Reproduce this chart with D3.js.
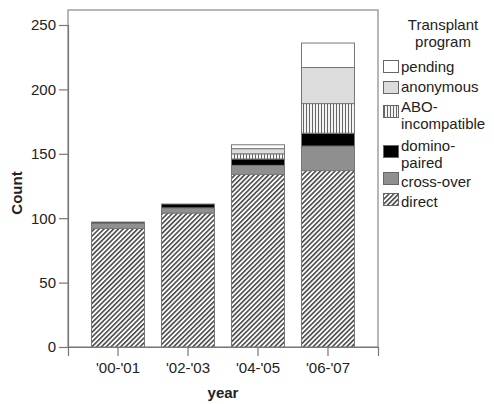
<!DOCTYPE html>
<html><head><meta charset="utf-8">
<script src="https://cdn.jsdelivr.net/npm/d3@7"></script>
<style>body{margin:0;background:#fff}svg{display:block}text{font-family:"Liberation Sans",Arial,sans-serif}</style>
</head><body><svg id="c" width="494" height="404"></svg>
<script>
const years = ["'00-'01","'02-'03","'04-'05","'06-'07"];
const programs = ["direct","cross-over","domino-paired","ABO-incompatible","anonymous","pending"];
const direct = [92,104,134,137];
const crossOver = [4,4,7,19];
const dominoPaired = [1,3,5,10];
const aboIncompatible = [0,0,4,23];
const anonymous = [0,0,4,28];
const pending = [0,0,3,19];
const yTicks = [0,50,100,150,200,250];
const legendLabels = [["pending"],["anonymous"],["ABO-","incompatible"],["domino-","paired"],["cross-over"],["direct"]];

const seriesVals = [direct,crossOver,dominoPaired,aboIncompatible,anonymous,pending];
const rows = years.map((y,i)=>{const r={year:y};programs.forEach((p,k)=>r[p]=seriesVals[k][i]);return r;});

const svg = d3.select("#c");
const defs = svg.append("defs");
const hatch = defs.append("pattern").attr("id","hatch").attr("patternUnits","userSpaceOnUse")
  .attr("width",3.4).attr("height",3.4).attr("patternTransform","rotate(45)");
hatch.append("rect").attr("width",3.4).attr("height",3.4).attr("fill","#fff");
hatch.append("rect").attr("width",1.6).attr("height",3.4).attr("fill","#4a4a4a");
const vert = defs.append("pattern").attr("id","vert").attr("patternUnits","userSpaceOnUse")
  .attr("width",3).attr("height",3);
vert.append("rect").attr("width",3).attr("height",3).attr("fill","#f4f4f4");
vert.append("rect").attr("width",1).attr("height",3).attr("fill","#666");

const fills = {"direct":"url(#hatch)","cross-over":"#8f8f8f","domino-paired":"#000","ABO-incompatible":"url(#vert)","anonymous":"#dcdcdc","pending":"#fff"};

const L=68,R=378,T=10,B=347;
const x = d3.scaleBand().domain(years).range([L,R]).paddingInner(0.243).paddingOuter(0.336);
const y = d3.scaleLinear().domain([0,250]).range([B,25]);

svg.append("rect").attr("x",L).attr("y",T).attr("width",R-L).attr("height",B-T)
  .attr("fill","none").attr("stroke","#888").attr("stroke-width",1.2);

const stack = d3.stack().keys(programs)(rows);
svg.append("g").selectAll("g").data(stack).join("g")
  .attr("fill",d=>fills[d.key])
  .selectAll("rect").data(d=>d.filter(v=>v[1]-v[0]>0)).join("rect")
  .attr("x",d=>x(d.data.year)).attr("width",x.bandwidth())
  .attr("y",d=>y(d[1])).attr("height",d=>y(d[0])-y(d[1]))
  .attr("stroke","#777").attr("stroke-width",1);

const ya = svg.append("g").attr("transform",`translate(${L},0)`)
  .call(d3.axisLeft(y).tickValues(yTicks).tickSize(9).tickPadding(3));
const xa = svg.append("g").attr("transform",`translate(0,${B})`)
  .call(d3.axisBottom(x).tickSize(9).tickPadding(6));
[ya,xa].forEach(a=>{a.select(".domain").attr("stroke","#777").attr("stroke-width",1.2);
  a.selectAll(".tick line").attr("stroke","#777").attr("stroke-width",1.2);
  a.selectAll("text").attr("font-size",15).attr("fill","#222").attr("font-family","Liberation Sans, Arial, sans-serif");});

svg.append("text").attr("transform","translate(22,193) rotate(-90)").attr("text-anchor","middle")
  .attr("font-size",15).attr("font-weight","bold").attr("fill","#222").text("Count");
svg.append("text").attr("x",223).attr("y",398).attr("text-anchor","middle")
  .attr("font-size",15).attr("font-weight","bold").attr("fill","#222").text("year");

const lg = svg.append("g");
lg.append("text").attr("x",443).attr("y",30).attr("text-anchor","middle").attr("font-size",15).attr("fill","#222").text("Transplant");
lg.append("text").attr("x",443).attr("y",47).attr("text-anchor","middle").attr("font-size",15).attr("fill","#222").text("program");
const legKeys = programs.slice().reverse();
const swY = [60,81,105,145,172,193];
const txY = [[72],[92],[112,129],[151,168],[187],[207]];
legKeys.forEach((k,i)=>{
  lg.append("rect").attr("x",383.5).attr("y",swY[i]+0.5).attr("width",15).attr("height",12)
    .attr("fill",fills[k]).attr("stroke","#666").attr("stroke-width",1);
  legendLabels[i].forEach((t,j)=>lg.append("text").attr("x",401).attr("y",txY[i][j])
    .attr("font-size",15).attr("fill","#222").text(t));
});
</script></body></html>
